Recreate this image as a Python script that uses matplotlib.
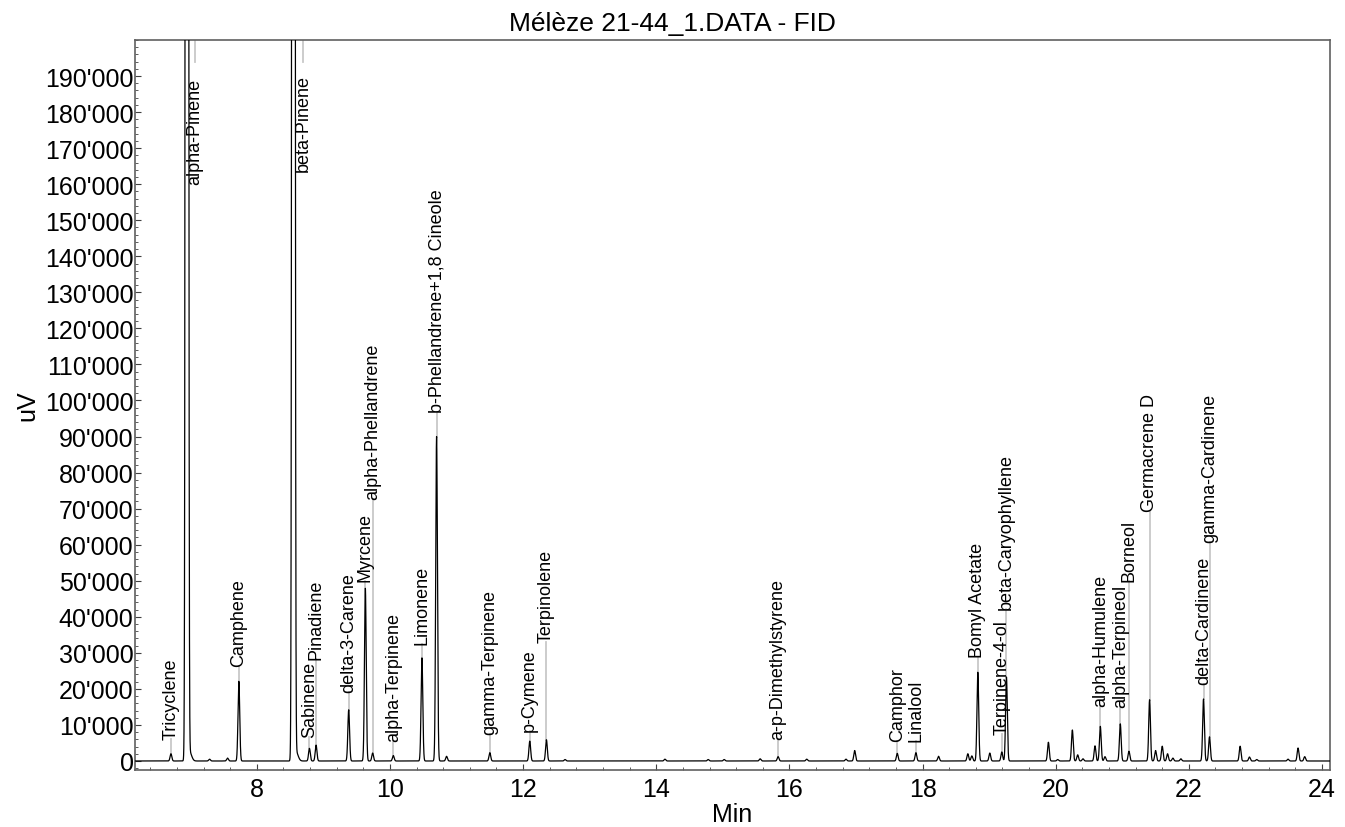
import numpy as np
import matplotlib
matplotlib.use("Agg")
import matplotlib.pyplot as plt
from matplotlib.ticker import MultipleLocator, FuncFormatter

# ---------------- data ----------------
title = "Mélèze 21-44_1.DATA - FID"
x_label = "Min"
y_label = "uV"

# labelled compounds
names = ["Tricyclene", "alpha-Pinene", "Camphene", "beta-Pinene", "Sabinene",
         "Pinadiene", "delta-3-Carene", "Myrcene", "alpha-Phellandrene",
         "alpha-Terpinene", "Limonene", "b-Phellandrene+1,8 Cineole",
         "gamma-Terpinene", "p-Cymene", "Terpinolene", "a-p-Dimethylstyrene",
         "Camphor", "Linalool", "Bomyl Acetate", "Terpinene-4-ol",
         "beta-Caryophyllene", "alpha-Humulene", "alpha-Terpineol", "Borneol",
         "Germacrene D", "delta-Cardinene", "gamma-Cardinene"]
apex_rt = [6.71, 6.95, 7.73, 8.55, 8.79, 8.89, 9.38, 9.63, 9.74, 10.05,
           10.48, 10.70, 11.50, 12.10, 12.35, 15.83, 17.62, 17.90, 18.83,
           19.19, 19.26, 20.67, 20.97, 21.10, 21.41, 22.22, 22.31]
apex_height = [2000, 2500000, 22100, 2500000, 3500, 4400, 14200, 47900, 2200,
               1500, 28600, 90000, 2300, 5500, 5900, 1200, 2100, 2300, 24600,
               2500, 23300, 9600, 10300, 2700, 17000, 17200, 6700]
label_rt = [6.71, 7.07, 7.73, 8.70, 8.79, 8.89, 9.38, 9.63, 9.74, 10.05,
            10.48, 10.70, 11.50, 12.10, 12.35, 15.83, 17.62, 17.90, 18.83,
            19.19, 19.26, 20.67, 20.97, 21.10, 21.41, 22.22, 22.31]

# unlabelled minor peaks
minor_rt = [6.99, 7.29, 7.56, 8.59, 10.85, 12.63, 14.13, 14.78, 15.02, 15.56,
            16.26, 16.85, 16.98, 18.24, 18.68, 18.74, 19.01, 19.89, 20.03,
            20.25, 20.33, 20.41, 20.59, 20.74, 21.50, 21.60, 21.68, 21.76,
            21.88, 22.77, 22.91, 23.02, 23.49, 23.64, 23.74]
minor_height = [2500, 500, 800, 2500, 1300, 400, 500, 400, 400, 600,
                500, 500, 2900, 1300, 2000, 1400, 2200, 5200, 400,
                8600, 1700, 600, 4200, 1200, 2900, 4100, 2000, 800,
                600, 4100, 1100, 400, 500, 3600, 1200]

y_ticks = list(range(0, 200000, 10000))
x_ticks = [8, 10, 12, 14, 16, 18, 20, 22, 24]

# ---------------- layout / style ----------------
label_bottom = [6100, 160000, 26300, 163600, 6650, 28300, 19000, 49900, 72600,
                5600, 32400, 96800, 7500, 8400, 32900, 6100, 5600, 5600, 28800,
                7500, 42100, 15200, 15000, 49900, 69300, 21300, 60700]
X_MIN, X_MAX = 6.17, 24.12
Y_MIN, Y_MAX = -2500, 200000
SIGMA = 0.013
TAIL_SIGMA = 0.03

plt.rcParams['font.family'] = ['Liberation Sans', 'DejaVu Sans']

fig = plt.figure(figsize=(13.45, 8.28), dpi=100)
ax = fig.add_axes([135 / 1345, 1 - 771 / 828, (1330 - 135) / 1345, (771 - 41) / 828])

# build chromatogram trace from the peak table
t = np.linspace(X_MIN, X_MAX, 30000)
signal = np.zeros_like(t)
for rt, h in zip(apex_rt, apex_height):
    signal += h * np.exp(-0.5 * ((t - rt) / SIGMA) ** 2)
for i, (rt, h) in enumerate(zip(minor_rt, minor_height)):
    s = TAIL_SIGMA if i in (0, 3) else SIGMA
    signal += h * np.exp(-0.5 * ((t - rt) / s) ** 2)

ax.plot(t, signal, color='black', lw=0.9, zorder=3)

# labels with grey connector lines
for name, rt, lrt, h, lb in zip(names, apex_rt, label_rt, apex_height, label_bottom):
    if h > Y_MAX:
        ax.plot([lrt, lrt], [Y_MAX, 193800], color='#c8c8c8', lw=1.3, zorder=2)
    else:
        ax.plot([lrt, lrt], [h, lb], color='#c8c8c8', lw=1.3, zorder=2)
    ax.text(lrt, lb, name, rotation=90, ha='center', va='bottom',
            fontsize=13, color='black', zorder=4)

ax.set_xlim(X_MIN, X_MAX)
ax.set_ylim(Y_MIN, Y_MAX)
ax.set_xticks(x_ticks)
ax.set_yticks(y_ticks)
ax.xaxis.set_minor_locator(MultipleLocator(0.4))
ax.yaxis.set_minor_locator(MultipleLocator(2000))
ax.yaxis.set_major_formatter(FuncFormatter(lambda v, p: f"{int(round(v)):,}".replace(",", "'")))
ax.xaxis.set_major_formatter(FuncFormatter(lambda v, p: f"{int(round(v))}"))

ax.tick_params(axis='both', which='major', direction='in', length=4, width=0.8,
               labelsize=18, color='#404040')
ax.tick_params(axis='both', which='minor', direction='in', length=2, width=0.6,
               color='#404040')
ax.tick_params(axis='y', which='major', pad=1)
ax.tick_params(axis='x', which='major', pad=5)

for sp in ax.spines.values():
    sp.set_color('#606060')
    sp.set_linewidth(1.2)

fig.text(0.5, 1 - 31.5 / 828, title, fontsize=19, ha='center', va='baseline')
ax.set_xlabel(x_label, fontsize=18, labelpad=1)
ax.set_ylabel(y_label, fontsize=18, labelpad=4)

fig.savefig("out.png", dpi=100)
